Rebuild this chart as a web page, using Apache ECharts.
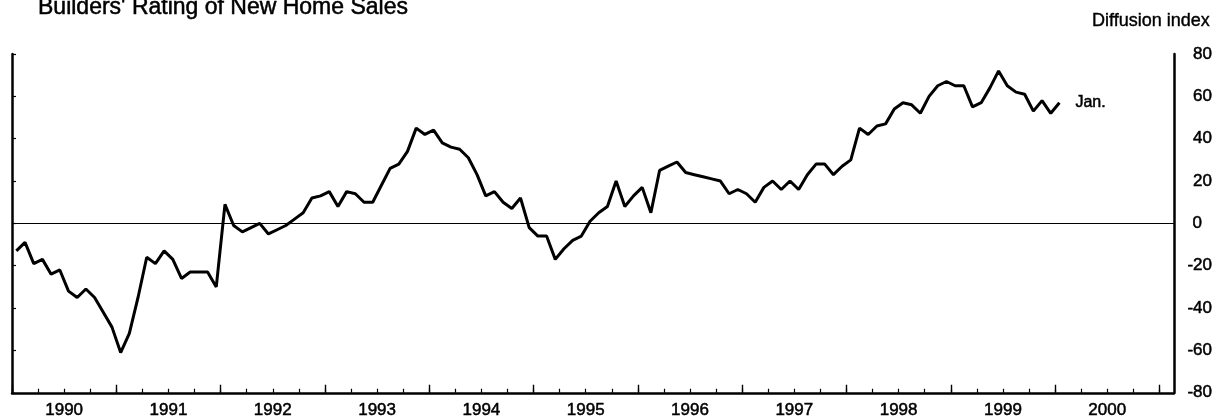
<!DOCTYPE html>
<html>
<head>
<meta charset="utf-8">
<script src="https://cdn.jsdelivr.net/npm/echarts@6/dist/echarts.min.js"></script>
<style>
  html, body { margin: 0; padding: 0; background: #fff; }
  #chart { width: 1221px; height: 419px; }
</style>
</head>
<body>
<div id="chart"></div>
<script>
// monthly readings, Jan 1990 .. Jan 2000
var startYear = 1990;
var values1990 = [-13, -9, -19, -17, -24, -22, -32, -35, -31, -35, -42, -49];
var values1991 = [-61, -52, -35, -16, -19, -13, -17, -26, -23, -23, -23, -30];
var values1992 = [9, -1, -4, -2, 0, -5, -3, -1, 2, 5, 12, 13];
var values1993 = [15, 8, 15, 14, 10, 10, 18, 26, 28, 34, 45, 42];
var values1994 = [44, 38, 36, 35, 31, 23, 13, 15, 10, 7, 12, -2];
var values1995 = [-6, -6, -17, -12, -8, -6, 1, 5, 8, 20, 8, 13];
var values1996 = [17, 5, 25, 27, 29, 24, 23, 22, 21, 20, 14, 16];
var values1997 = [14, 10, 17, 20, 16, 20, 16, 23, 28, 28, 23, 27];
var values1998 = [30, 45, 42, 46, 47, 54, 57, 56, 52, 60, 65, 67];
var values1999 = [65, 65, 55, 57, 64, 72, 65, 62, 61, 53, 58, 52];
var values2000 = [57];

var yearLabels = [1990, 1991, 1992, 1993, 1994, 1995, 1996, 1997, 1998, 1999, 2000];

var allValues = [].concat(values1990, values1991, values1992, values1993, values1994,
  values1995, values1996, values1997, values1998, values1999, values2000);

// each month plotted at mid-month
var seriesData = allValues.map(function (v, i) {
  return [startYear + (i + 0.5) / 12, v];
});

var quarterTicks = [];
for (var q = 0; q <= 44; q++) quarterTicks.push(startYear + q / 4);
var yearTicks = [];
for (var y = 0; y <= 11; y++) yearTicks.push(startYear + y);
var labelPos = yearLabels.map(function (yr) { return yr + 0.5; });

var font = 'Liberation Sans, Arial, Helvetica, sans-serif';
// scanned print looks heavier than plain regular weight
var ink = { textBorderColor: '#000', textBorderWidth: 0.5 };
var chart = echarts.init(document.getElementById('chart'));

chart.setOption({
  animation: false,
  backgroundColor: '#fff',
  title: {
    text: "Builders' Rating of New Home Sales",
    left: 33,
    top: -9,
    textStyle: Object.assign({ fontFamily: font, fontSize: 23, fontWeight: 'normal', color: '#000' }, ink)
  },
  graphic: [{
    type: 'text',
    right: 11,
    top: 12,
    style: { text: 'Diffusion index', fontFamily: font, fontSize: 18, fill: '#000', stroke: '#000', lineWidth: 0.4 }
  }],
  grid: { left: 12, right: 47, top: 54, bottom: 26 },
  xAxis: [{
    type: 'value',
    min: 1990,
    max: 2001.14,
    position: 'bottom',
    axisLine: { show: true, onZero: false, lineStyle: { color: '#000', width: 2.5 } },
    axisTick: { show: true, inside: true, length: 4, customValues: quarterTicks, lineStyle: { color: '#000', width: 1.2 } },
    axisLabel: Object.assign({
      show: true, customValues: labelPos, margin: 9,
      fontFamily: font, fontSize: 17, color: '#000',
      formatter: function (v) { return String(Math.floor(v)); }
    }, ink),
    splitLine: { show: false }
  }, {
    type: 'value',
    min: 1990,
    max: 2001.14,
    position: 'bottom',
    axisLine: { show: false, onZero: false },
    axisTick: { show: true, inside: true, length: 8, customValues: yearTicks, lineStyle: { color: '#000', width: 1.4 } },
    axisLabel: { show: false },
    splitLine: { show: false }
  }],
  yAxis: [{
    type: 'value',
    min: -80, max: 80, interval: 20,
    position: 'left',
    axisLine: { show: true, onZero: false, lineStyle: { color: '#000', width: 2.5 } },
    axisTick: { show: true, inside: true, length: 4, lineStyle: { color: '#000', width: 1.2 } },
    axisLabel: { show: false },
    splitLine: { show: false }
  }, {
    type: 'value',
    min: -80, max: 80, interval: 20,
    position: 'right',
    axisLine: { show: true, onZero: false, lineStyle: { color: '#000', width: 2.5 } },
    axisTick: { show: false },
    axisLabel: Object.assign({
      show: true, align: 'right', margin: 38,
      fontFamily: font, fontSize: 17, color: '#000',
      formatter: function (v) { return v === 0 ? '0{s|}' : String(v); },
      rich: { s: { width: 10 } }
    }, ink),
    splitLine: { show: false }
  }],
  series: [{
    type: 'line',
    xAxisIndex: 0,
    yAxisIndex: 1,
    data: seriesData,
    showSymbol: false,
    symbol: 'none',
    lineStyle: { color: '#000', width: 3 },
    endLabel: Object.assign({
      show: true, formatter: 'Jan.', distance: 16,
      fontFamily: font, fontSize: 16, color: '#000'
    }, ink),
    markLine: {
      silent: true,
      symbol: 'none',
      label: { show: false },
      lineStyle: { color: '#000', width: 1.2, type: 'solid' },
      data: [{ yAxis: 0 }]
    }
  }]
});
</script>
</body>
</html>
